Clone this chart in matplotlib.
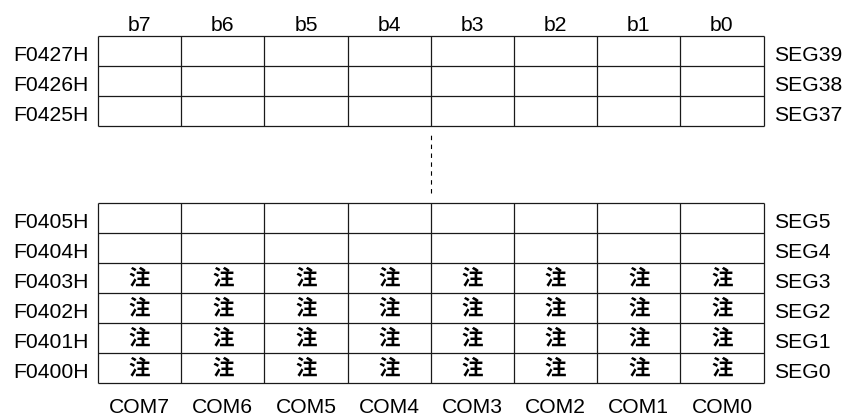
import matplotlib
matplotlib.use("Agg")
import matplotlib.pyplot as plt

# column headers (top) and common lines (bottom)
bit_labels = ["b7", "b6", "b5", "b4", "b3", "b2", "b1", "b0"]
com_labels = ["COM7", "COM6", "COM5", "COM4", "COM3", "COM2", "COM1", "COM0"]

# upper block of the LCD display memory
top_addrs = ["F0427H", "F0426H", "F0425H"]
top_segs = ["SEG39", "SEG38", "SEG37"]

# lower block
bottom_addrs = ["F0405H", "F0404H", "F0403H", "F0402H", "F0401H", "F0400H"]
bottom_segs = ["SEG5", "SEG4", "SEG3", "SEG2", "SEG1", "SEG0"]

# rows whose bits all carry the note mark
note_rows = ["F0403H", "F0402H", "F0401H", "F0400H"]
note_mark = "注"

GAP = 2.55          # empty space (in rows) between the two blocks
LINE = "#1a1a1a"
FS = 15.2

plt.rcParams["font.family"] = ["Liberation Sans", "DejaVu Sans"]

fig = plt.figure(figsize=(8.45, 4.17), dpi=100)
ax = fig.add_axes([98 / 845, 33.7 / 417, 665.6 / 845, 347.3 / 417])
ncol = len(bit_labels)
n_bot = len(bottom_addrs)
n_top = len(top_addrs)
ax.set_xlim(0, ncol)
ax.set_ylim(0, n_bot + GAP + n_top)
ax.axis("off")


def draw_block(base, addrs, segs):
    n = len(addrs)
    ax.hlines([base + k for k in range(n + 1)], 0, ncol, color=LINE, lw=0.9, clip_on=False)
    ax.vlines(range(ncol + 1), base, base + n, color=LINE, lw=0.9, clip_on=False)
    for i, (addr, seg) in enumerate(zip(addrs, segs)):
        y0 = base + n - 1 - i
        ax.text(-0.11, y0 + 0.18, addr, ha="right", va="baseline", fontsize=FS)
        ax.text(8.125, y0 + 0.18, seg, ha="left", va="baseline", fontsize=FS)
        if addr in note_rows:
            for c in range(ncol):
                ax.text(c + 0.5, y0 + 0.5, note_mark, ha="center", va="center",
                        fontsize=15.5, fontweight="bold",
                        family=["Noto Sans CJK JP", "DejaVu Sans"])


top_base = n_bot + GAP
draw_block(top_base, top_addrs, top_segs)
draw_block(0, bottom_addrs, bottom_segs)

# column labels
for c, (b, com) in enumerate(zip(bit_labels, com_labels)):
    ax.text(c + 0.5, top_base + n_top + 0.18, b, ha="center", va="baseline", fontsize=FS)
    ax.text(c + 0.5, -0.98, com, ha="center", va="baseline", fontsize=FS)

# dashed continuation mark between blocks
ax.vlines(ncol / 2, n_bot + 0.32, top_base - 0.3, color="black", lw=0.8,
          linestyles=(0, (4, 4)))

fig.savefig("out.png", dpi=100)
